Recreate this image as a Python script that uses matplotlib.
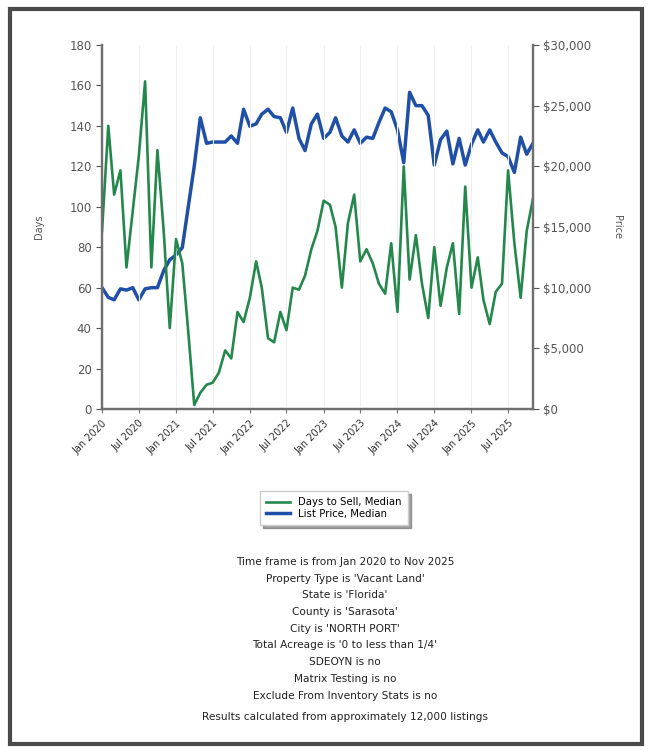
#Grafica de dias de venta y precio de lista - North Port
import pandas as pd
import matplotlib.pyplot as plt
import matplotlib.dates as mdates
from matplotlib.patches import Rectangle
from matplotlib.ticker import FuncFormatter

#Datos mensuales (Ene 2020 - Nov 2025)
fechas = pd.date_range('2020-01-01', periods=71, freq='MS')

dias_venta = [88, 140, 106, 118, 70, 98, 125, 162, 70, 128, 88, 40,
              84, 72, 40, 2, 8, 12, 13, 18, 29, 25, 48, 43,
              55, 73, 60, 35, 33, 48, 39, 60, 59, 66, 79, 88,
              103, 101, 90, 60, 92, 106, 73, 79, 72, 62, 57, 82,
              48, 120, 64, 86, 62, 45, 80, 51, 70, 82, 47, 110,
              60, 75, 54, 42, 58, 62, 118, 82, 55, 88, 104]

precio_lista = [10000, 9200, 9000, 9900, 9800, 10000, 9000, 9900, 10000,
                10000, 11400, 12300, 12700, 13300, 16500, 20000, 24000,
                21900, 22000, 22000, 22000, 22500, 21900, 24700, 23300,
                23500, 24300, 24700, 24100, 24000, 22800, 24800, 22300,
                21300, 23500, 24300, 22300, 22800, 24000, 22500, 22000,
                23000, 21900, 22400, 22300, 23600, 24800, 24500, 23000,
                20300, 26100, 25000, 25000, 24200, 20100, 22200, 22900,
                20200, 22300, 20100, 21800, 23000, 22000, 23000, 22000,
                21100, 20800, 19500, 22400, 21000, 21900]

etiquetas = ['Days to Sell, Median', 'List Price, Median']

filtros = ["Time frame is from Jan 2020 to Nov 2025",
           "Property Type is 'Vacant Land'",
           "State is 'Florida'",
           "County is 'Sarasota'",
           "City is 'NORTH PORT'",
           "Total Acreage is '0 to less than 1/4'",
           "SDEOYN is no",
           "Matrix Testing is no",
           "Exclude From Inventory Stats is no"]
nota = 'Results calculated from approximately 12,000 listings'

verde = '#24884c'
azul = '#1f4fa6'
gris = '#555555'

fig = plt.figure(figsize=(6.51, 7.52), dpi=100)
ax = fig.add_axes([0.1567, 0.4561, 0.662, 0.4841])
ax2 = ax.twinx()

# Precio en el eje derecho, dias en el izquierdo (verde encima)
linea_azul, = ax2.plot(fechas, precio_lista, color=azul, linewidth=2.5)
linea_verde, = ax.plot(fechas, dias_venta, color=verde, linewidth=1.9)
ax.set_zorder(ax2.get_zorder() + 1)
ax.patch.set_visible(False)

ax.set_ylim(0, 180)
ax.set_yticks(range(0, 181, 20))
ax2.set_ylim(0, 30000)
ax2.set_yticks(range(0, 30001, 5000))
ax2.yaxis.set_major_formatter(FuncFormatter(lambda v, p: f'${v:,.0f}'))

ax.set_xlim(fechas[0], fechas[-1])
ax.xaxis.set_major_locator(mdates.MonthLocator(bymonth=[1, 7]))
ax.xaxis.set_major_formatter(mdates.DateFormatter('%b %Y'))
plt.setp(ax.get_xticklabels(), rotation=45, ha='right',
         rotation_mode='anchor', fontsize=7, color='#333333')

for a in (ax, ax2):
    a.spines['top'].set_visible(False)
    for lado in ['left', 'right', 'bottom']:
        a.spines[lado].set_color('#6f6f6f')
        a.spines[lado].set_linewidth(1.6)
    a.tick_params(axis='y', labelsize=8.5, colors=gris, length=4)
ax.tick_params(axis='x', length=3, color='#6f6f6f')
ax.grid(axis='x', color='#f0f0f0', linewidth=0.8)

ax.set_ylabel('Days', fontsize=7, color=gris, labelpad=18)
ax2.set_ylabel('Price', fontsize=7, color=gris, rotation=-90, labelpad=22)

# Leyenda
fig.legend([linea_verde, linea_azul], etiquetas, loc='center',
           bbox_to_anchor=(334 / 651, 1 - 508 / 752), fontsize=7.3,
           frameon=True, shadow=True, fancybox=False, edgecolor='#cccccc',
           handlelength=2.4, labelspacing=0.15, borderpad=0.6)

# Texto de filtros
y0 = 1 - 562 / 752
for i, txt in enumerate(filtros):
    fig.text(345 / 651, y0 - i * 16.7 / 752, txt, ha='center', va='center',
             fontsize=7.6, color='#222222')
fig.text(345 / 651, 1 - 717 / 752, nota, ha='center', va='center',
         fontsize=7.6, color='#222222')

# Marco exterior
fig.patches.append(Rectangle((10 / 651, 8 / 752), 632 / 651, 735 / 752,
                             transform=fig.transFigure, fill=False,
                             edgecolor='#4a4a4a', linewidth=3))

fig.savefig('out.png', dpi=100, facecolor='white')
